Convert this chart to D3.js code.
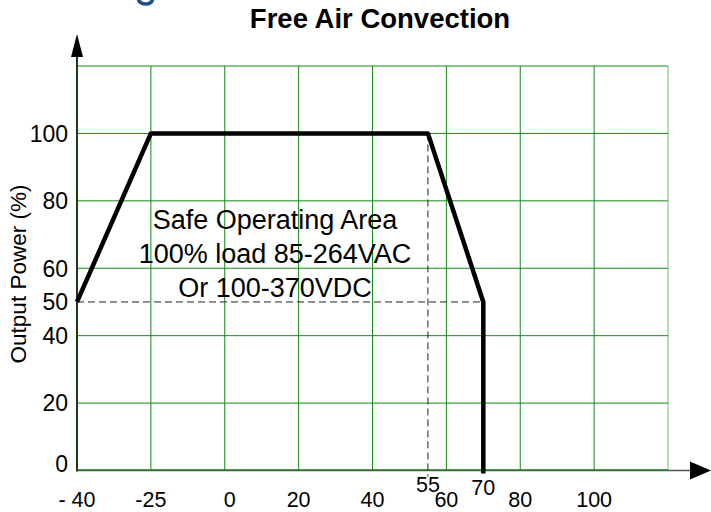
<!DOCTYPE html>
<html>
<head>
<meta charset="utf-8">
<script src="https://cdn.jsdelivr.net/npm/d3@7/dist/d3.min.js"></script>
<style>
  html, body { margin: 0; padding: 0; background: #fff; }
  svg { display: block; font-family: Arial, "Liberation Sans", Helvetica, sans-serif; }
</style>
</head>
<body>
<svg id="chart" width="711" height="512"></svg>
<script>
// ---- data ----
const gridX = [-40, -25, 0, 20, 40, 60, 80, 100, 120];
const gridY = [0, 20, 40, 60, 80, 100, 120];
const xTickValues = [-40, -25, 0, 20, 40, 55, 60, 70, 80, 100];
const xTickLabels = ["- 40", "-25", "0", "20", "40", "55", "60", "70", "80", "100"];
const yTickValues = [0, 20, 40, 50, 60, 80, 100];
const yTickLabels = ["0", "20", "40", "50", "60", "80", "100"];
const curveTemp = [-40, -25, 55, 70, 70];
const curveLoad = [50, 100, 100, 50, 0];
const title = "Free Air Convection";
const yTitle = "Output Power (%)";
const annotation = ["Safe Operating Area", "100% load 85-264VAC", "Or 100-370VDC"];

// ---- layout ----
const svg = d3.select("#chart");
const pL = 77, pR = 668, pT = 66, pB = 470.5;
const step = (pR - pL) / (gridX.length - 1);
const x = d3.scaleLinear().domain(gridX).range(gridX.map((d, i) => pL + i * step));
const y = d3.scaleLinear().domain([0, 120]).range([pB, pT]);

// fragment of a cut-off blue heading glyph at the top edge
svg.append("path").attr("d", "M138,-2 Q139,4 146,4 Q152,4 153,-2")
  .attr("fill", "none").attr("stroke", "#1f4f8f").attr("stroke-width", 3.5);

// title
svg.append("text").attr("x", 380).attr("y", 28).attr("text-anchor", "middle")
  .attr("font-size", 27.5).attr("font-weight", "bold").attr("fill", "#000").text(title);

// grid
const grid = svg.append("g");
grid.selectAll("line.v").data(gridX.slice(1)).join("line")
  .attr("x1", d => x(d)).attr("x2", d => x(d)).attr("y1", y(120)).attr("y2", y(0))
  .attr("stroke", (d, i, n) => i === n.length - 1 ? "#6cbf6c" : "#138a13").attr("stroke-width", 1);
grid.selectAll("line.h").data(gridY.slice(1)).join("line")
  .attr("x1", pL).attr("x2", pR).attr("y1", d => y(d)).attr("y2", d => y(d))
  .attr("stroke", "#138a13").attr("stroke-width", 1);

// x axis (gray with arrow) and bottom green line
svg.append("line").attr("x1", pL).attr("x2", 692).attr("y1", y(0)).attr("y2", y(0))
  .attr("stroke", "#555").attr("stroke-width", 1.5);
svg.append("line").attr("x1", pL).attr("x2", pR).attr("y1", y(0) - 0.5).attr("y2", y(0) - 0.5)
  .attr("stroke", "#2a7a2a").attr("stroke-width", 1.5);
svg.append("path").attr("d", `M690,${y(0) - 9} L711,${y(0)} L690,${y(0) + 9} Z`).attr("fill", "#000");

// y axis with arrow
svg.append("line").attr("x1", pL).attr("x2", pL).attr("y1", y(0) + 1).attr("y2", 52)
  .attr("stroke", "#1e3a1e").attr("stroke-width", 2);
svg.append("path").attr("d", `M${pL},34 L${pL + 6},57 L${pL - 6},57 Z`).attr("fill", "#000");

// dashed guides
const dash = svg.append("g").attr("stroke", "#222").attr("stroke-width", 1).attr("stroke-dasharray", "7,4");
dash.append("line").attr("x1", x(-40)).attr("x2", x(70)).attr("y1", y(50)).attr("y2", y(50));
dash.append("line").attr("x1", x(55)).attr("x2", x(55)).attr("y1", y(100)).attr("y2", y(0) + 6);

// derating curve
const pts = curveTemp.map((t, i) => [x(t), y(curveLoad[i])]);
svg.append("path").attr("d", d3.line()(pts)).attr("fill", "none")
  .attr("stroke", "#000").attr("stroke-width", 4.5).attr("stroke-linejoin", "round");
svg.append("line").attr("x1", x(70)).attr("x2", x(70)).attr("y1", y(0)).attr("y2", y(0) + 3)
  .attr("stroke", "#000").attr("stroke-width", 4.5);

// x tick labels
svg.append("g").selectAll("text").data(xTickValues).join("text")
  .attr("x", d => x(d) + (d === 0 ? 5 : 0))
  .attr("y", d => d === 55 ? 492 : d === 70 ? 495 : 507)
  .attr("text-anchor", "middle").attr("font-size", 21.5).attr("fill", "#000")
  .text((d, i) => xTickLabels[i]);

// y tick labels
svg.append("g").selectAll("text").data(yTickValues).join("text")
  .attr("x", 68).attr("y", d => y(d) - (d === 0 ? 7 : 0))
  .attr("dy", "0.36em").attr("text-anchor", "end").attr("font-size", 23).attr("fill", "#000")
  .text((d, i) => yTickLabels[i]);

// y title
svg.append("text").attr("transform", "translate(18,274) rotate(-90)")
  .attr("text-anchor", "middle").attr("dy", "0.35em").attr("font-size", 22.5).attr("fill", "#000")
  .text(yTitle);

// annotation
svg.append("g").selectAll("text").data(annotation).join("text")
  .attr("x", 275).attr("y", (d, i) => 229 + i * 34)
  .attr("text-anchor", "middle").attr("font-size", 27).attr("fill", "#000")
  .text(d => d);
</script>
</body>
</html>
